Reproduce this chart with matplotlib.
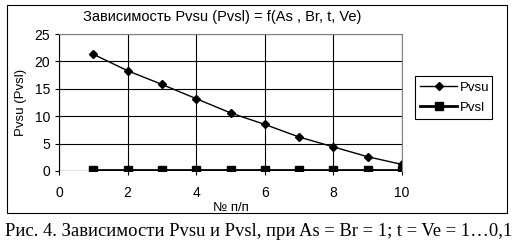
"""Pvsu and Pvsl vs item number, Excel-style chart with caption."""

import matplotlib.pyplot as plt
from matplotlib.patches import Rectangle

x_items = [1, 2, 3, 4, 5, 6, 7, 8, 9, 10]
pvsu = [21.3, 18.3, 15.8, 13.2, 10.6, 8.5, 6.2, 4.4, 2.6, 1.2]
pvsl = [0.1, 0.1, 0.1, 0.1, 0.1, 0.1, 0.1, 0.1, 0.1, 0.1]
x_ticks = [0, 2, 4, 6, 8, 10]
y_ticks = [0, 5, 10, 15, 20, 25]

W, H = 514, 250
plt.rcParams["font.family"] = ["Liberation Sans", "DejaVu Sans"]

fig = plt.figure(figsize=(W / 100, H / 100), dpi=100)

# outer chart frame
fig.patches.append(Rectangle((7 / W, 1 - 213 / H), 500 / W, 208 / H,
                             transform=fig.transFigure, fill=False,
                             edgecolor="black", linewidth=0.8))

ax = fig.add_axes([59 / W, 1 - 171 / H, 343 / W, 137 / H])
ax.plot(x_items, pvsu, color="black", linewidth=1, marker="D", markersize=4.5, label="Pvsu")
ax.plot(x_items, pvsl, color="black", linewidth=2, marker="s", markersize=6, label="Pvsl")

ax.set_xlim(0, 10)
ax.set_ylim(0, 25)
ax.set_xticks(x_ticks)
ax.set_yticks(y_ticks)
ax.grid(True, color="black", linewidth=0.8)
ax.tick_params(labelsize=10, length=3, width=0.8, color="black")
ax.tick_params(axis="x", pad=8)
for side in ["top", "right"]:
    ax.spines[side].set_color("#808080")
ax.spines["left"].set_color("black")
ax.spines["bottom"].set_visible(False)
ax.axhline(0, color="black", linewidth=0.8)

ax.set_xlabel("№ п/п", fontsize=9.5, labelpad=1)
ax.set_ylabel("Pvsu (Pvsl)", fontsize=9.5, labelpad=5)
fig.text(222 / W, 1 - 17 / H, "Зависимость Pvsu (Pvsl) = f(As , Br, t, Ve)",
         ha="center", va="center", fontsize=10.5)

leg = ax.legend(loc="upper left", bbox_to_anchor=(415 / W, 1 - 123 / H, 77 / W, 47 / H),
                bbox_transform=fig.transFigure, mode="expand", fancybox=False,
                edgecolor="black", framealpha=1, fontsize=9.5, handlelength=2.8,
                borderaxespad=0, handletextpad=0.2, labelspacing=0.6)
leg.get_frame().set_linewidth(0.8)

fig.text(W / 2 / W + 0.004, 1 - 232 / H,
         "Рис. 4. Зависимости Pvsu и Pvsl, при As = Br = 1; t = Ve = 1…0,1",
         ha="center", va="center", fontsize=13.4, family=["Liberation Serif", "DejaVu Serif"])

fig.savefig("out.png", dpi=100)
